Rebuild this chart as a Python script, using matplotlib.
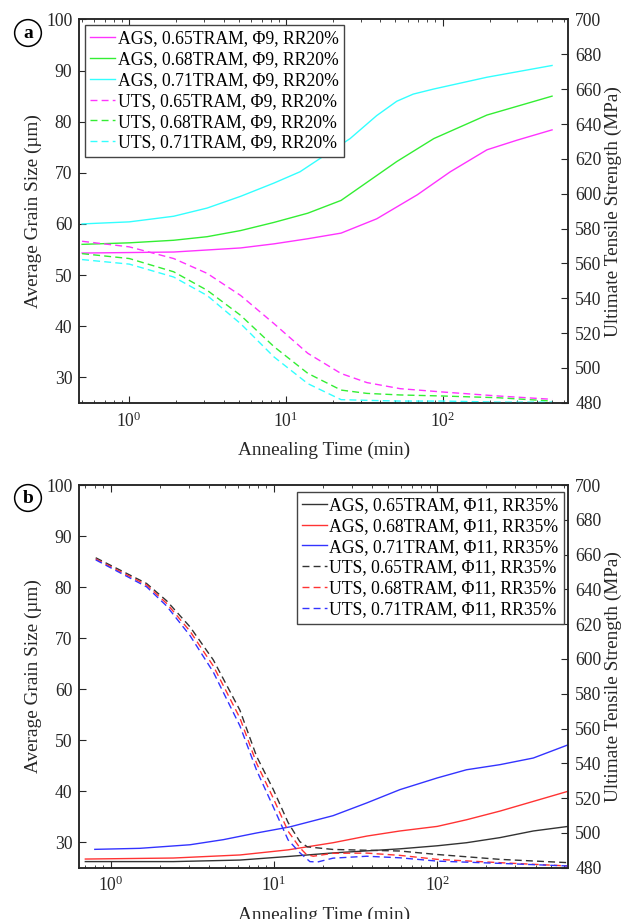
import matplotlib
matplotlib.use('Agg')
import matplotlib.pyplot as plt
from matplotlib.ticker import LogLocator, FixedLocator, NullFormatter

plt.rcParams['font.family'] = ['Liberation Serif', 'DejaVu Serif']
plt.rcParams['mathtext.fontset'] = 'stix'

# ---- panel a: Phi9, RR20% ----
time_a_ags_065 = [0.5, 1, 1.92, 3.14, 5.14, 8.4, 13.8, 22.5, 38, 69, 112, 192, 300, 500]
ags_a_065 = [54.3, 54.4, 54.5, 54.9, 55.3, 56.1, 57.1, 58.2, 61.0, 65.7, 70.2, 74.5, 76.4, 78.4]
time_a_ags_068 = [0.5, 1, 1.92, 3.14, 5.14, 8.4, 13.8, 22.5, 51, 88, 192, 500]
ags_a_068 = [56.0, 56.3, 56.8, 57.5, 58.7, 60.3, 62.1, 64.6, 72.2, 76.7, 81.3, 85.0]
time_a_ags_071 = [0.5, 1, 1.92, 3.14, 5.14, 8.4, 12.3, 25.7, 38, 51, 65, 88, 192, 500]
ags_a_071 = [60.0, 60.4, 61.5, 63.1, 65.4, 68.0, 70.2, 76.7, 81.2, 84.0, 85.4, 86.4, 88.7, 91.0]

time_a_uts = [0.5, 1, 1.92, 3.14, 5.14, 8.4, 13.8, 22.5, 32.9, 53.7, 100, 227, 500]
uts_a_065 = [572.7, 569.5, 562.8, 554.3, 541.6, 525.4, 508.4, 496.8, 491.6, 488.1, 486.2, 483.9, 482.0]
uts_a_068 = [565.6, 562.8, 555.2, 544.6, 530.2, 512.2, 496.9, 487.3, 485.4, 484.5, 483.9, 482.9, 481.0]
uts_a_071 = [562.2, 559.6, 552.2, 541.6, 525.4, 506.3, 491.0, 481.8, 481.4, 481.0, 481.0, 480.4, 480.4]

labels_a = ['AGS, 0.65TRAM, \u03a69, RR20%', 'AGS, 0.68TRAM, \u03a69, RR20%',
            'AGS, 0.71TRAM, \u03a69, RR20%', 'UTS, 0.65TRAM, \u03a69, RR20%',
            'UTS, 0.68TRAM, \u03a69, RR20%', 'UTS, 0.71TRAM, \u03a69, RR20%']

# ---- panel b: Phi11, RR35% ----
time_b_ags_065 = [0.7, 2.42, 6.19, 12.2, 23, 37, 59, 100, 151, 242, 387, 634]
ags_b_065 = [26.2, 26.2, 26.5, 27.2, 27.9, 28.3, 28.7, 29.3, 29.9, 30.9, 32.2, 33.1]
time_b_ags_068 = [0.7, 2.42, 6.19, 12.2, 23, 37, 59, 100, 151, 242, 387, 634]
ags_b_068 = [26.7, 26.9, 27.5, 28.5, 29.9, 31.2, 32.2, 33.1, 34.4, 36.1, 38.0, 40.0]
time_b_ags_071 = [0.8, 1.51, 3.06, 4.9, 7.8, 12.5, 23, 37, 59, 100, 151, 242, 387, 634]
ags_b_071 = [28.6, 28.8, 29.5, 30.5, 31.8, 33.0, 35.2, 37.7, 40.3, 42.6, 44.2, 45.2, 46.5, 49.1]

time_b_uts_065 = [0.81, 1.66, 2.2, 3.06, 4.25, 6.19, 7.83, 9.9, 12.2, 14.4, 16.0, 23, 59, 100, 242, 634]
uts_b_065 = [658.2, 643.4, 633.5, 618.5, 599.5, 570.5, 544.0, 525.0, 506.0, 495.0, 492.0, 490.5, 489.6, 487.6, 484.8, 482.9]
time_b_uts_068 = [0.81, 1.66, 2.2, 3.06, 4.25, 6.19, 7.83, 9.9, 12.2, 14.4, 15.8, 17.4, 23, 37, 59, 100, 242, 634]
uts_b_068 = [657.5, 642.5, 632.0, 616.0, 596.0, 566.0, 540.0, 520.0, 501.0, 491.5, 487.6, 486.6, 488.3, 488.4, 487.1, 484.8, 482.9, 481.0]
time_b_uts_071 = [0.81, 1.66, 2.2, 3.06, 4.25, 6.19, 7.83, 9.9, 12.2, 14.4, 16.6, 18.5, 23, 37, 59, 100, 242, 634]
uts_b_071 = [657.0, 641.5, 630.5, 613.5, 592.5, 561.5, 536.0, 515.0, 496.0, 488.6, 483.5, 483.3, 485.5, 486.6, 485.7, 483.8, 482.5, 481.0]

labels_b = ['AGS, 0.65TRAM, \u03a611, RR35%', 'AGS, 0.68TRAM, \u03a611, RR35%',
            'AGS, 0.71TRAM, \u03a611, RR35%', 'UTS, 0.65TRAM, \u03a611, RR35%',
            'UTS, 0.68TRAM, \u03a611, RR35%', 'UTS, 0.71TRAM, \u03a611, RR35%']

colors_a = ['#ff33ff', '#33ee33', '#33ffff']
colors_b = ['#333333', '#ff3333', '#3333ff']

AX_COLOR = '#262626'
FS = 12.7


def style_axes(ax, ax2, xlim):
    ax.set_xscale('log')
    ax.set_xlim(*xlim)
    ax.set_ylim(25, 100)
    ax2.set_ylim(480, 700)
    ax.yaxis.set_major_locator(FixedLocator(range(30, 101, 10)))
    ax2.yaxis.set_major_locator(FixedLocator(range(480, 701, 20)))
    ax.xaxis.set_major_locator(LogLocator(base=10))
    ax.xaxis.set_minor_locator(LogLocator(base=10, subs=range(2, 10)))
    ax.xaxis.set_minor_formatter(NullFormatter())
    ax.tick_params(axis='x', which='both', direction='in', top=True, colors=AX_COLOR,
                   labelsize=FS, pad=6)
    ax.tick_params(axis='x', which='major', length=5, width=0.8)
    ax.tick_params(axis='x', which='minor', length=2.5, width=0.6)
    ax.tick_params(axis='y', direction='in', length=5, width=0.8, colors=AX_COLOR,
                   labelsize=FS, pad=5)
    ax2.tick_params(axis='y', direction='in', length=5, width=0.8, colors=AX_COLOR,
                    labelsize=FS, pad=5)
    for a in (ax, ax2):
        for sp in a.spines.values():
            sp.set_color(AX_COLOR)
            sp.set_linewidth(1.1)
    ax.set_xlabel('Annealing Time (min)', fontsize=FS + 1.2, color=AX_COLOR, labelpad=8)
    ax.set_ylabel('Average Grain Size (\u00b5m)', fontsize=FS + 1.2, color=AX_COLOR, labelpad=3)
    ax2.set_ylabel('Ultimate Tensile Strength (MPa)', fontsize=FS + 1.2, color=AX_COLOR,
                   labelpad=2)


def draw_panel(ax, ags, uts, colors, labels, xlim, loc, anchor):
    ax2 = ax.twinx()
    handles = []
    for (t, v), c in zip(ags, colors):
        h, = ax.plot(t, v, color=c, lw=1.0)
        handles.append(h)
    for (t, v), c in zip(uts, colors):
        h, = ax2.plot(t, v, color=c, lw=1.0, linestyle=(0, (5, 3)))
        handles.append(h)
    style_axes(ax, ax2, xlim)
    leg = ax2.legend(handles, labels, loc=loc, bbox_to_anchor=anchor, borderaxespad=0,
                     fontsize=FS, fancybox=False, framealpha=1, edgecolor='#444444',
                     handlelength=1.4, handletextpad=0.15, labelspacing=0.22,
                     borderpad=0.3)
    leg.get_frame().set_linewidth(1.0)
    return ax2


fig = plt.figure(figsize=(6.25, 9.19), dpi=100)
ax_a = fig.add_axes([0.1269, 0.5617, 0.7824, 0.4171])
ax_b = fig.add_axes([0.1269, 0.0558, 0.7824, 0.4164])

draw_panel(ax_a,
           [(time_a_ags_065, ags_a_065), (time_a_ags_068, ags_a_068), (time_a_ags_071, ags_a_071)],
           [(time_a_uts, uts_a_065), (time_a_uts, uts_a_068), (time_a_uts, uts_a_071)],
           colors_a, labels_a, (0.48, 635), 'upper left', (0.012, 0.986))

draw_panel(ax_b,
           [(time_b_ags_065, ags_b_065), (time_b_ags_068, ags_b_068), (time_b_ags_071, ags_b_071)],
           [(time_b_uts_065, uts_b_065), (time_b_uts_068, uts_b_068), (time_b_uts_071, uts_b_071)],
           colors_b, labels_b, (0.643, 634), 'upper right', (0.991, 0.983))

# circled panel letters
for letter, y in (('a', 1 - 33 / 919), ('b', 1 - 498 / 919)):
    fig.text(28 / 625, y, letter, ha='center', va='center', fontsize=14, fontweight='bold',
             bbox=dict(boxstyle='circle,pad=0.25', fc='white', ec='black', lw=1.1))

fig.savefig('out.png', dpi=100)
